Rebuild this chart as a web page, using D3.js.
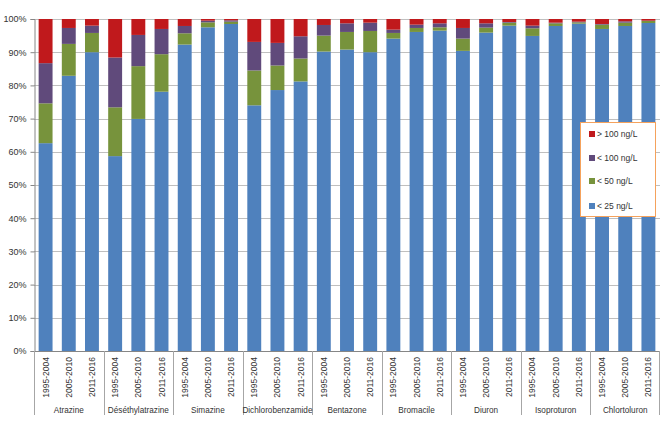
<!DOCTYPE html>
<html><head><meta charset="utf-8">
<script src="https://cdn.jsdelivr.net/npm/d3@7/dist/d3.min.js"></script>
<style>
body{margin:0;background:#fff;}
svg{display:block;font-family:"Liberation Sans",Arial,sans-serif;}
</style></head>
<body><svg id="c" width="662" height="434"></svg>
<script>
const substances = ["Atrazine","Déséthylatrazine","Simazine","Dichlorobenzamide","Bentazone","Bromacile","Diuron","Isoproturon","Chlortoluron"];
const periods = ["1995-2004","2005-2010","2011-2016"];
const seriesNames = ["< 25 ng/L","< 50 ng/L","< 100 ng/L","> 100 ng/L"];
const lt25  = [62.6,82.9,90.0, 58.7,69.9,78.1, 92.3,97.5,98.5, 74.0,78.6,81.2, 90.2,90.8,90.0, 94.1,96.1,96.5, 90.4,95.9,98.0, 94.9,97.9,98.6, 97.0,97.9,98.8];
const lt50  = [12.0,9.6,5.8, 14.7,15.9,11.3, 3.4,1.5,0.7, 10.5,7.4,6.9, 4.8,5.3,6.4, 1.7,1.2,1.0, 3.7,1.5,0.9, 2.3,0.8,0.4, 1.3,1.0,0.6];
const lt100 = [12.1,4.8,2.2, 15.0,9.4,7.6, 2.2,0.5,0.4, 8.6,6.8,6.7, 3.2,2.6,2.5, 1.0,1.0,1.2, 3.2,1.3,0.2, 0.8,0.2,0.2, 0.2,0.4,0.1];
const gt100 = [13.3,2.7,2.0, 11.6,4.8,3.0, 2.1,0.5,0.4, 6.9,7.2,5.2, 1.8,1.3,1.1, 3.2,1.7,1.3, 2.7,1.3,0.9, 2.0,1.1,0.8, 1.5,0.7,0.5];
const yTicks = [0,10,20,30,40,50,60,70,80,90,100];
const colors = ["#4f81bd","#77933c","#604a7b","#c0191c"];

const rows = [];
substances.forEach((s,i)=>periods.forEach((p,j)=>{
  const k=i*3+j;
  rows.push({key:s+"|"+p, sub:s, per:p, a:lt25[k], b:lt50[k], c:lt100[k], d:gt100[k]});
}));

const svg = d3.select("#c");
const L=34, R=660, T=19, B=351;
const x = d3.scaleBand().domain(rows.map(r=>r.key)).range([L,R]).paddingInner(0.4).paddingOuter(0.2);
const xg = d3.scaleBand().domain(substances).range([L,R]).padding(0);
const y = d3.scaleLinear().domain([0,100]).range([B,T]);

// gridlines
svg.append("g").selectAll("line").data(yTicks.filter(t=>t>0)).join("line")
  .attr("x1",L).attr("x2",R).attr("y1",d=>Math.round(y(d))+0.5).attr("y2",d=>Math.round(y(d))+0.5)
  .attr("stroke","#bfbfbf").attr("stroke-width",1);

// bars
const stack = d3.stack().keys(["a","b","c","d"]);
const layers = stack(rows);
svg.append("g").selectAll("g").data(layers).join("g")
  .attr("fill",(d,i)=>colors[i])
  .selectAll("rect").data(d=>d).join("rect")
  .attr("x",d=>x(d.data.key)).attr("width",x.bandwidth())
  .attr("y",d=>y(d[1])).attr("height",d=>y(d[0])-y(d[1]));

// y axis
const ya = svg.append("g").attr("transform",`translate(${L+0.5},0)`)
  .call(d3.axisLeft(y).tickValues(yTicks).tickFormat(d=>d+"%").tickSize(4).tickPadding(4));
ya.select(".domain").attr("stroke","#868686");
ya.selectAll(".tick line").attr("stroke","#868686");
ya.selectAll(".tick text").attr("fill","#333").style("font-size","9px").style("font-family","'Liberation Sans',Arial,sans-serif");

// x axis baseline
svg.append("line").attr("x1",L).attr("x2",R).attr("y1",B+0.5).attr("y2",B+0.5).attr("stroke","#868686");
// group separators
const seps = substances.map(s=>xg(s)).concat([R-1]);
svg.append("g").selectAll("line").data(seps).join("line")
  .attr("x1",d=>Math.round(d)+0.5).attr("x2",d=>Math.round(d)+0.5).attr("y1",B).attr("y2",415)
  .attr("stroke","#a6a6a6");

// period labels
svg.append("g").selectAll("text").data(rows).join("text")
  .attr("transform",d=>`translate(${x(d.key)+x.bandwidth()/2+3},${357}) rotate(-90)`)
  .attr("text-anchor","end").attr("fill","#333").style("font-size","8.5px")
  .text(d=>d.per);

// group labels
svg.append("g").selectAll("text").data(substances).join("text")
  .attr("x",d=>xg(d)+xg.bandwidth()/2).attr("y",413)
  .attr("text-anchor","middle").attr("fill","#333").style("font-size","8.2px")
  .text(d=>d);

// legend
const lg = svg.append("g");
lg.append("rect").attr("x",580.5).attr("y",122.5).attr("width",75).attr("height",94)
  .attr("fill","#fff").attr("stroke","#f5a25c").attr("stroke-width",1);
const legOrder = [3,2,1,0];
const legY = [134,158,181,206];
legOrder.forEach((si,i)=>{
  lg.append("rect").attr("x",589).attr("y",legY[i]-3).attr("width",6).attr("height",6).attr("fill",colors[si]);
  lg.append("text").attr("x",597).attr("y",legY[i]+3).attr("fill","#333").style("font-size","8.5px").text(seriesNames[si]);
});
</script></body></html>
